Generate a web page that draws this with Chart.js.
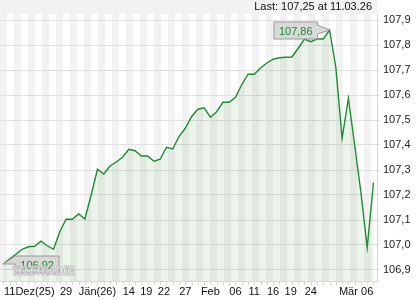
<!DOCTYPE html>
<html>
<head>
<meta charset="utf-8">
<script src="https://cdn.jsdelivr.net/npm/chart.js@4/dist/chart.umd.min.js"></script>
<style>
  html, body { margin: 0; padding: 0; background: #fff; }
  #wrap { width: 420px; height: 300px; }
</style>
</head>
<body>
<div id="wrap"><canvas id="chart" width="420" height="300"></canvas></div>
<script>
// Kursverlauf 11.12.2025 - 11.03.2026
const values = [
  106.924, 106.944, 106.963, 106.983, 106.993, 106.995, 107.015, 106.997, 106.983, 107.053,
  107.103, 107.103, 107.124, 107.104, 107.200, 107.303, 107.284, 107.316, 107.332, 107.351,
  107.383, 107.377, 107.356, 107.356, 107.335, 107.343, 107.391, 107.384, 107.434, 107.467,
  107.513, 107.543, 107.549, 107.511, 107.533, 107.571, 107.571, 107.591, 107.641, 107.683,
  107.683, 107.708, 107.728, 107.743, 107.749, 107.751, 107.752, 107.787, 107.824, 107.813,
  107.824, 107.824, 107.860, 107.710, 107.427, 107.587, 107.400, 107.210, 106.990, 107.250
];
const xTickPos = [0, 10, 15, 20, 22.8, 25.6, 29, 33, 37, 40, 43, 45.8, 49, 55, 58];
const xTickText = ["11Dez(25)", "29", "Jän(26)", "14", "19", "22", "27", "Feb", "06", "11", "16", "19", "24", "Mär", "06"];
const yTicks = [106.9, 107.0, 107.1, 107.2, 107.3, 107.4, 107.5, 107.6, 107.7, 107.8, 107.9];
const lastDate = "11.03.26";

const fmt = (v, d) => v.toFixed(d).replace(".", ",");
const FONT = "11px 'Liberation Sans', Arial, sans-serif";

// hintergrund: grauer rahmen + weisse streifen
const hintergrund = {
  id: "hintergrund",
  beforeDraw(chart) {
    const { ctx, chartArea: a } = chart;
    ctx.save();
    ctx.fillStyle = "#f2f2f2";
    ctx.fillRect(0, 0, a.right, a.bottom);
    ctx.fillStyle = "#ffffff";
    for (let x = a.left + 7; x < a.right; x += 14) {
      ctx.fillRect(x, a.top, Math.min(7, a.right - x), a.bottom - a.top);
    }
    ctx.restore();
  }
};

function box(ctx, text, px, py, side) {
  ctx.font = FONT;
  const w = ctx.measureText(text).width + 10;
  const h = 17;
  let bx, by = py - 8;
  ctx.beginPath();
  if (side === "left") {
    bx = px - 12 - w;
    ctx.moveTo(bx, by);
    ctx.lineTo(bx + w, by);
    ctx.lineTo(bx + w, by + 3);
    ctx.lineTo(px, py);
    ctx.lineTo(bx + w, by + 12);
    ctx.lineTo(bx + w, by + h);
    ctx.lineTo(bx, by + h);
  } else {
    bx = px + 12;
    ctx.moveTo(bx, by);
    ctx.lineTo(bx + w, by);
    ctx.lineTo(bx + w, by + h);
    ctx.lineTo(bx, by + h);
    ctx.lineTo(bx, by + 8);
    ctx.lineTo(px, py);
  }
  ctx.closePath();
  ctx.fillStyle = "rgba(212,212,212,0.85)";
  ctx.fill();
  ctx.strokeStyle = "#9a9a9a";
  ctx.lineWidth = 1;
  ctx.stroke();
  ctx.fillStyle = "#1e8a30";
  ctx.textAlign = "center";
  ctx.textBaseline = "middle";
  ctx.fillText(text, bx + w / 2, by + h / 2 + 1);
}

const extras = {
  id: "extras",
  afterDatasetsDraw(chart) {
    const { ctx, chartArea: a, scales: { x, y } } = chart;
    ctx.save();

    // untere linie + ticks
    ctx.strokeStyle = "#d8d8d8";
    ctx.lineWidth = 1;
    ctx.beginPath();
    ctx.moveTo(a.left, a.bottom + 0.5);
    ctx.lineTo(a.right, a.bottom + 0.5);
    for (let i = 0; i < values.length; i++) {
      const px = Math.round(x.getPixelForValue(i)) + 0.5;
      ctx.moveTo(px, a.bottom);
      ctx.lineTo(px, a.bottom + 4);
    }
    ctx.stroke();

    // x beschriftung
    ctx.font = FONT;
    ctx.fillStyle = "#111";
    ctx.textBaseline = "middle";
    ctx.textAlign = "center";
    xTickPos.forEach((p, k) => {
      const w = ctx.measureText(xTickText[k]).width;
      const px = Math.max(x.getPixelForValue(p), a.left + 4 + w / 2);
      ctx.fillText(xTickText[k], px, a.bottom + 11);
    });

    // max / min boxen
    const maxV = Math.max(...values), minV = Math.min(...values);
    const iMax = values.indexOf(maxV), iMin = values.indexOf(minV);
    box(ctx, fmt(maxV, 2), x.getPixelForValue(iMax), y.getPixelForValue(maxV), "left");
    box(ctx, fmt(minV, 2), x.getPixelForValue(iMin), y.getPixelForValue(minV), "right");

    // wasserzeichen
    ctx.save();
    ctx.translate(a.left + 12, a.bottom - 6);
    ctx.scale(0.68, 1);
    ctx.font = "italic bold 13px 'DejaVu Sans', sans-serif";
    ctx.textAlign = "left";
    ctx.textBaseline = "alphabetic";
    ctx.fillStyle = "rgba(255,255,255,0.6)";
    ctx.strokeStyle = "#bdbdbd";
    ctx.lineWidth = 1.2;
    ctx.fillText("TELETRADER", 0, 0);
    ctx.strokeText("TELETRADER", 0, 0);
    ctx.restore();

    // last
    ctx.font = FONT;
    ctx.fillStyle = "#111";
    ctx.textAlign = "right";
    ctx.textBaseline = "middle";
    ctx.fillText("Last: " + fmt(values[values.length - 1], 2) + " at " + lastDate, a.right - 5, 7);
    ctx.restore();
  }
};

new Chart(document.getElementById("chart"), {
  type: "line",
  data: {
    datasets: [{
      data: values.map((v, i) => ({ x: i, y: v })),
      borderColor: "#1e8c32",
      borderWidth: 1.4,
      backgroundColor: "rgba(40,130,40,0.09)",
      fill: "start",
      pointRadius: 0,
      tension: 0
    }]
  },
  options: {
    responsive: false,
    animation: false,
    layout: { padding: { top: 14, left: 0, right: 0, bottom: 0 } },
    plugins: { legend: { display: false }, tooltip: { enabled: false } },
    scales: {
      x: {
        type: "linear",
        min: -0.53,
        max: 59.56,
        grid: { display: false },
        border: { display: false },
        ticks: { display: false },
        afterFit(s) { s.height = 19; }
      },
      y: {
        position: "right",
        min: 106.856,
        max: 107.924,
        afterBuildTicks(s) { s.ticks = yTicks.map(v => ({ value: v })); },
        grid: { color: "#e0e0e0", tickLength: 3 },
        border: { color: "#d6d6d6" },
        ticks: {
          padding: 3,
          color: "#222",
          font: { family: "'Liberation Sans', Arial, sans-serif", size: 11 },
          callback: v => fmt(v, 1)
        },
        afterFit(s) { s.width = 43; }
      }
    }
  },
  plugins: [hintergrund, extras]
});
</script>
</body>
</html>
